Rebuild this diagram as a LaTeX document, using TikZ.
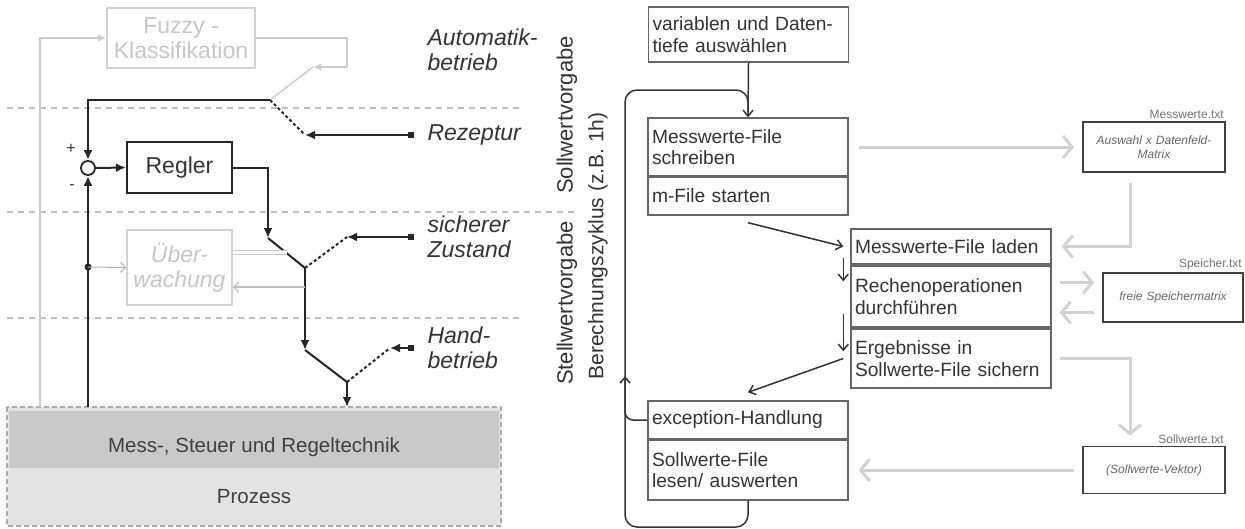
\documentclass[tikz,border=0pt]{standalone}
\usepackage{fontspec}
\setmainfont{Liberation Sans}
\usetikzlibrary{arrows.meta}

\tikzset{
  lbl/.style={font=\fontsize{23}{25}\selectfont\itshape, text=black!80, align=left, anchor=west},
  vlbl/.style={font=\fontsize{22}{24}\selectfont, text=black!80, rotate=90},
  sig/.style={draw=black!85, line width=2pt},
  tip/.style={-{Latex[length=10pt,width=9pt]}},
  src/.style={{Square[length=6pt,width=6pt]}-{Latex[length=10pt,width=9pt]}},
  swdash/.style={dash pattern=on 3pt off 2.5pt},
  sep/.style={draw=gray!50, line width=1.5pt, dash pattern=on 6pt off 5pt},
  gline/.style={draw=gray!40, line width=1.4pt},
  grbox/.style={draw=gray!35, line width=1.6pt, text=gray!45, align=center, font=\fontsize{23}{25}\selectfont},
  stepbox/.style={draw=black!60, line width=1.4pt, minimum width=200pt, text width=192pt,
    inner xsep=4pt, align=left, font=\fontsize{19.2}{21.5}\selectfont, text=black!80},
  filebox/.style={draw=black!75, line width=1.8pt, minimum width=142pt, text width=134pt,
    align=center, font=\fontsize{12}{14}\selectfont\itshape, text=black!60},
  filelbl/.style={font=\fontsize{12}{14}\selectfont, text=black!55, anchor=south east, inner sep=2pt},
  garr/.style={draw=gray!35, line width=3pt, -{Straight Barb[length=9pt,width=22pt]}},
  flow/.style={draw=black!80, line width=1.5pt},
  ftip/.style={-{Straight Barb[length=6pt,width=10pt]}}
}

\begin{document}
\hyphenpenalty=10000
\begin{tikzpicture}[x=1pt,y=-1pt]
\useasboundingbox (0,0) rectangle (1245,528);

% Regelkreis
\fill[gray!22] (7,407) rectangle (501,526);
\fill[gray!42] (9,411) rectangle (499,468);
\draw[gray!65, line width=1.5pt, dash pattern=on 5pt off 3pt] (7,407) rectangle (501,526);
\node[font=\fontsize{20.5}{22}\selectfont, text=black!75] (msr) at (254,447) {Mess-, Steuer und Regeltechnik};
\node[font=\fontsize{20.5}{22}\selectfont, text=black!75] (proz) at (254,497) {Prozess};

\draw[sep] (7,108) -- (522,108);
\draw[sep] (7,212) -- (575,212);
\draw[sep] (7,318) -- (522,318);

\node[grbox, minimum width=148pt, minimum height=60pt] (fuzzy) at (181,38) {Fuzzy -\\Klassifikation};
\node[draw=black!85, line width=2.2pt, minimum width=105pt, minimum height=51pt,
  font=\fontsize{23}{25}\selectfont, text=black!80] (regler) at (179.5,167.5) {Regler};
\node[grbox, font=\fontsize{23}{25}\selectfont\itshape, minimum width=105pt, minimum height=75pt] (ueber) at (179.5,267.5) {Über-\\wachung};
\node[circle, draw=black!85, line width=1.8pt, minimum size=14pt, inner sep=0pt, fill=white] (sum) at (88,168) {};
\node[font=\fontsize{16}{16}\selectfont, text=black!80] (plus) at (71,149) {+};
\node[font=\fontsize{16}{16}\selectfont, text=black!80] (minus) at (72,187) {-};

\coordinate (sa) at (270,100);
\coordinate (sb) at (305,268);
\coordinate (sc) at (347,382);
\coordinate (ra) at (305,135);
\coordinate (rb) at (347,237);
\coordinate (rc) at (390,348);
\coordinate (fa) at (313,67);

\node[lbl] (auto) at (424,50) {Automatik-\\betrieb};
\node[lbl] (rez) at (424,135) {Rezeptur};
\node[lbl] (sich) at (424,237) {sicherer\\Zustand};
\node[lbl] (hand) at (424,348) {Hand-\\betrieb};
\node[vlbl] (sollv) at (567,115) {Sollwertvorgabe};
\node[vlbl] (stellv) at (567,303) {Stellwertvorgabe};

\draw[gline, -{Latex[length=8pt,width=7pt]}] (40,407) |- (fuzzy.west);
\draw[gline, -{Latex[length=8pt,width=7pt]}] (fuzzy.east) -| (347,67) -- (fa);
\draw[gline] (fa) -- (sa);

\draw[sig, tip] (sa) -| (sum.north);
\draw[sig, swdash] (sa) -- (ra);
\draw[sig, src] ([xshift=-10pt]rez.west) -- (ra);
\draw[sig, tip] (regler.east) -| (268,238);
\draw[sig] (268,238) -- (sb);
\draw[sig, swdash] (sb) -- (rb);
\draw[sig, src] ([xshift=-10pt]sich.west) -- (rb);
\draw[sig, tip] (sb) -- (305,350);
\draw[sig] (305,350) -- (sc);
\draw[sig, swdash] (sc) -- (rc);
\draw[sig, src] ([xshift=-10pt]hand.west) -- (rc);
\draw[sig, tip] (sc) -- (347,407);
\draw[sig, tip] (88,407) -- (sum.south);
\draw[sig, tip] (sum.east) -- (regler.west);
\fill[black!85] (88,267) circle (3.5pt);
\draw[gray!60, line width=1pt, -{Straight Barb[length=5pt,width=10pt]}] (88,267) -- (ueber.west);
\draw[gray!40, line width=0.8pt, double, double distance=2.5pt] ([yshift=15pt]ueber.east) -- (287,252.5);
\draw[gray!50, line width=1.2pt, -{Straight Barb[length=5pt,width=10pt]}] (305,287) -- ([yshift=-19.5pt]ueber.east);

% Berechnung
\node[stepbox, minimum height=55pt] (var) at (748.5,34.5) {variablen und Daten-\\tiefe auswählen};
\node[stepbox, minimum height=58pt] (mwsch) at (748,147) {Messwerte-File\\schreiben};
\node[stepbox, minimum height=38pt] (mstart) at (748,196) {m-File starten};
\node[stepbox, minimum height=35pt] (mwl) at (951,246.5) {Messwerte-File laden};
\node[stepbox, minimum height=61pt] (rech) at (951,296.5) {Rechenoperationen\\durchführen};
\node[stepbox, minimum height=59pt] (erg) at (951,358.5) {Ergebnisse in\\Sollwerte-File sichern};
\node[stepbox, minimum height=38pt] (exc) at (748,420) {exception-Handlung};
\node[stepbox, minimum height=60pt] (swl) at (748,470) {Sollwerte-File\\lesen/ auswerten};
\node[vlbl, font=\fontsize{21}{23}\selectfont] (zyklus) at (598,246) {Berechnungszyklus (z.B. 1h)};

\node[filebox, minimum height=50pt] (mtx) at (1154,147) {Auswahl x Datenfeld-\\Matrix};
\node[filebox, minimum width=140pt, text width=132pt, minimum height=49pt] (spm) at (1173,297.5) {freie Speichermatrix};
\node[filebox, minimum height=47pt] (svk) at (1154,470) {(Sollwerte-Vektor)};
\node[filelbl] (mtxl) at (mtx.north east) {Messwerte.txt};
\node[filelbl] (spml) at (spm.north east) {Speicher.txt};
\node[filelbl] (svkl) at (svk.north east) {Sollwerte.txt};

\draw[flow, ftip] (var.south) -- (mwsch.north);
\draw[flow, rounded corners=12pt] (swl.south) |- (625,527) -- (625,90) -- (748,90) -- (748,112);
\draw[flow, ftip, rounded corners=8pt] (exc.west) -| (625,376);
\draw[flow, ftip] ([yshift=-7pt]mstart.south) -- ([xshift=-7pt]mwl.west);
\draw[flow, ftip] ([xshift=-7pt,yshift=7pt]mwl.south west) -- ([xshift=-7pt,yshift=-16pt]rech.north west);
\draw[flow, ftip] ([xshift=-7pt,yshift=14pt]rech.south west) -- ([xshift=-7pt,yshift=-23pt]erg.north west);
\draw[flow, ftip] ([xshift=-7pt]erg.west) -- ([yshift=8pt]exc.north);

\draw[garr] ([xshift=10pt]mwsch.east) -- ([xshift=-8pt]mtx.west);
\draw[garr] ([xshift=-24pt,yshift=-10pt]mtx.south) |- ([xshift=10pt]mwl.east);
\draw[garr] ([xshift=8pt,yshift=14pt]rech.east) -- ([xshift=-8pt,yshift=15pt]spm.west);
\draw[garr] ([xshift=-8pt,yshift=-15pt]spm.west) -- ([xshift=8pt,yshift=-16pt]rech.east);
\draw[garr] ([xshift=8pt]erg.east) -| ([xshift=-24pt,yshift=10pt]svk.north);
\draw[garr] ([xshift=-8pt]svk.west) -- ([xshift=10pt]swl.east);
\end{tikzpicture}
\end{document}
